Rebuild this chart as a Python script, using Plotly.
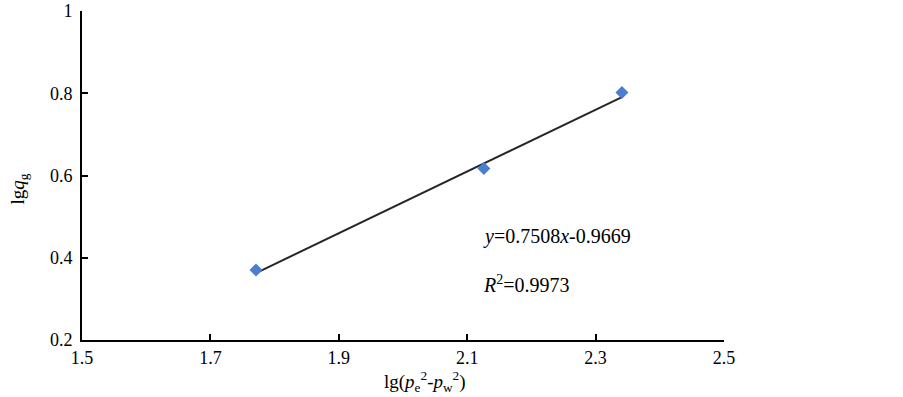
import plotly.graph_objects as go

x_vals = [1.771, 2.126, 2.341]
y_vals = [0.370, 0.617, 0.802]
slope = 0.7508
intercept = -0.9669
x_ticks = [1.5, 1.7, 1.9, 2.1, 2.3, 2.5]
y_ticks = [0.2, 0.4, 0.6, 0.8, 1.0]
y_tick_text = ["0.2", "0.4", "0.6", "0.8", "1"]

fit_x = [min(x_vals), max(x_vals)]
fit_y = [slope * v + intercept for v in fit_x]

font = dict(family="Liberation Serif", size=18, color="black")
big = dict(family="Liberation Serif", size=20, color="black")
title_font = dict(family="Liberation Serif", size=19, color="black")

fig = go.Figure()
fig.add_trace(go.Scatter(x=fit_x, y=fit_y, mode="lines",
                         line=dict(color="#262626", width=2), showlegend=False))
fig.add_trace(go.Scatter(x=x_vals, y=y_vals, mode="markers",
                         marker=dict(symbol="diamond", size=10, color="#4a7fd0"),
                         showlegend=False))

fig.add_annotation(x=2.122, y=0.452, xref="x", yref="y", xanchor="left",
                   text="<i>y</i>=0.7508<i>x</i>-0.9669", showarrow=False, font=big)
fig.add_annotation(x=2.122, y=0.335, xref="x", yref="y", xanchor="left",
                   text="<i>R</i><sup>2</sup>=0.9973", showarrow=False, font=big)
fig.add_annotation(x=0.534, y=-0.08, xref="paper", yref="paper", yanchor="top",
                   text="lg(<i>p</i><sub>e</sub><sup>2</sup>-<i>p</i><sub>w</sub><sup>2</sup>)",
                   showarrow=False, font=title_font)
fig.add_annotation(x=-0.12, y=0.46, xref="paper", yref="paper", textangle=-90,
                   text="lg<i>q</i><sub>g</sub>", showarrow=False, font=title_font)

fig.update_layout(
    width=903, height=397,
    margin=dict(l=82, r=179, t=11, b=57),
    plot_bgcolor="white", paper_bgcolor="white",
    font=font,
)
fig.update_xaxes(range=[1.5, 2.5], tickvals=x_ticks, ticktext=[str(v) for v in x_ticks],
                 showline=True, linecolor="black", linewidth=2, ticks="inside",
                 ticklen=6, tickwidth=2, tickcolor="black", showgrid=False, zeroline=False,
                 automargin=False, tickfont=font, ticklabeloverflow="allow")
fig.update_yaxes(range=[0.2, 1.0], tickvals=y_ticks, ticktext=y_tick_text,
                 showline=True, linecolor="black", linewidth=2, ticks="inside",
                 ticklen=6, tickwidth=2, tickcolor="black", showgrid=False, zeroline=False,
                 automargin=False, tickfont=font, ticklabelstandoff=4,
                 ticklabeloverflow="allow")

fig.write_html("out.html", config={"displayModeBar": False},
               post_script="document.body.style.margin='0';document.body.style.padding='0';")
